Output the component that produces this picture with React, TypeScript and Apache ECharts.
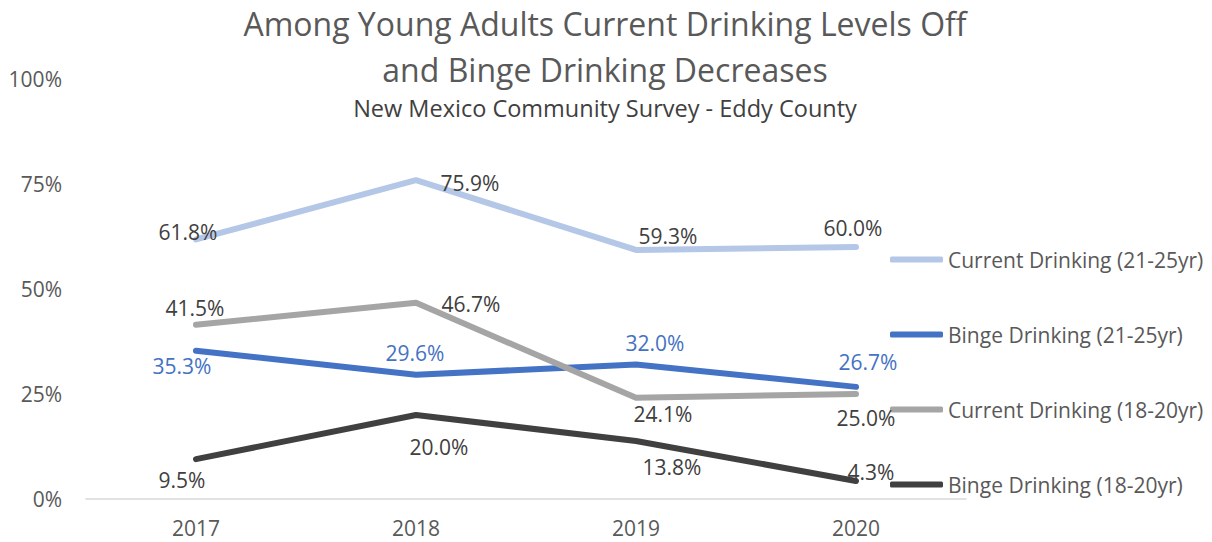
import React, { useEffect, useRef } from "react";
import * as echarts from "echarts";

const years = ["2017", "2018", "2019", "2020"];
const seriesNames = [
  "Current Drinking (21-25yr)",
  "Binge Drinking (21-25yr)",
  "Current Drinking (18-20yr)",
  "Binge Drinking (18-20yr)",
];
const current2125 = [61.8, 75.9, 59.3, 60.0];
const binge2125 = [35.3, 29.6, 32.0, 26.7];
const current1820 = [41.5, 46.7, 24.1, 25.0];
const binge1820 = [9.5, 20.0, 13.8, 4.3];
const yTicks = [0, 25, 50, 75, 100];

const colors = ["#B4C7E7", "#4472C4", "#A5A5A5", "#404040"];
const labelColors = ["#404040", "#4472C4", "#404040", "#404040"];
const labelOffsets = [
  [[-8, -7], [54, 3], [32, -14], [-3, -19]],
  [[-14, 15], [-1, -22], [19, -22], [12, -25]],
  [[-1, -17], [55, 1], [27, 16], [10, 24]],
  [[-14, 21], [23, 32], [36, 26], [15, -9]],
];

const FONT = "'Open Sans', 'Noto Sans', sans-serif";

export default function App() {
  const ref = useRef<HTMLDivElement>(null);
  useEffect(() => {
    document.body.style.margin = "0";
    if (!ref.current) return;
    const chart = echarts.init(ref.current, undefined, { renderer: "svg" });
    const all = [current2125, binge2125, current1820, binge1820];
    const series = all.map((vals, si) => ({
      name: seriesNames[si],
      type: "line",
      data: vals.map((v, i) => ({
        value: v,
        label: { offset: labelOffsets[si][i] },
      })),
      symbol: "circle",
      symbolSize: 1,
      showSymbol: true,
      itemStyle: { color: colors[si] },
      lineStyle: { color: colors[si], width: 6, cap: "round", join: "round" },
      label: {
        show: true,
        position: "inside",
        formatter: (p: any) => Number(p.value).toFixed(1) + "%",
        color: labelColors[si],
        fontSize: 21,
        fontFamily: FONT,
      },
      z: 2 + si,
    }));
    chart.setOption({
      animation: false,
      textStyle: { fontFamily: FONT },
      title: [
        {
          text: "Among Young Adults Current Drinking Levels Off\nand Binge Drinking Decreases",
          left: 600,
          textAlign: "center",
          top: -5,
          textStyle: {
            fontSize: 32,
            fontWeight: "normal",
            color: "#595959",
            lineHeight: 46,
            fontFamily: FONT,
          },
        },
        {
          text: "New Mexico Community Survey - Eddy County",
          left: 600,
          textAlign: "center",
          top: 91,
          textStyle: {
            fontSize: 23.5,
            fontWeight: "normal",
            color: "#404040",
            fontFamily: FONT,
          },
        },
      ],
      legend: {
        orient: "vertical",
        left: 885,
        top: 244,
        itemGap: 54,
        itemWidth: 53,
        itemHeight: 6,
        icon: "roundRect",
        data: seriesNames,
        textStyle: {
          fontSize: 21,
          color: "#595959",
          lineHeight: 20,
          fontFamily: FONT,
        },
      },
      grid: { left: 86, right: 246, top: 79, bottom: 43, containLabel: false },
      xAxis: {
        type: "category",
        data: years,
        boundaryGap: true,
        axisLine: { lineStyle: { color: "#D9D9D9", width: 1.5 } },
        axisTick: { show: false },
        axisLabel: { color: "#595959", fontSize: 21, margin: 18, fontFamily: FONT },
      },
      yAxis: {
        type: "value",
        min: yTicks[0],
        max: yTicks[yTicks.length - 1],
        interval: yTicks[1] - yTicks[0],
        splitLine: { show: false },
        axisLine: { show: false },
        axisTick: { show: false },
        axisLabel: {
          color: "#595959",
          fontSize: 21,
          margin: 24,
          formatter: "{value}%",
          fontFamily: FONT,
        },
      },
      series,
    });
    return () => chart.dispose();
  }, []);
  return <div ref={ref} style={{ width: 1212, height: 542 }} />;
}
